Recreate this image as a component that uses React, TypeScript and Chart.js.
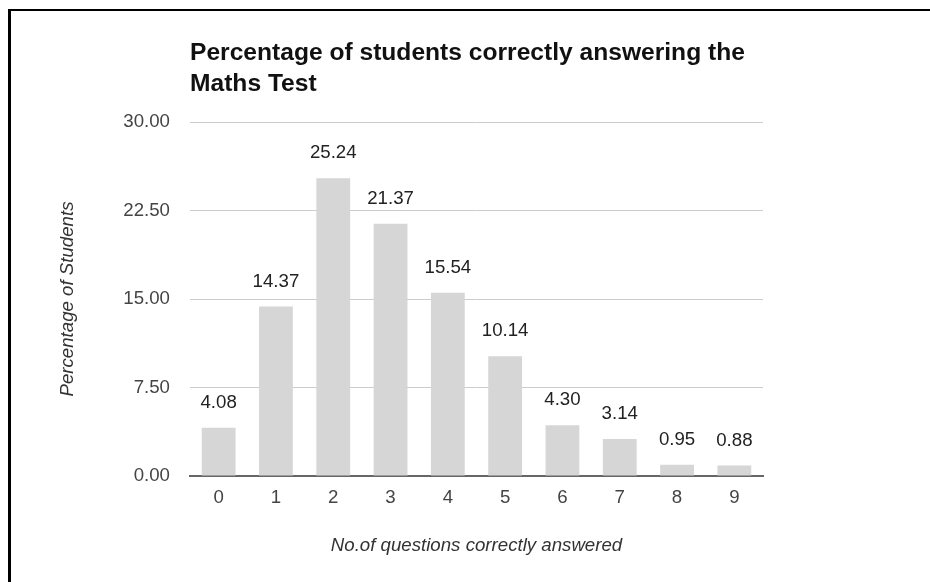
import React, { useEffect, useRef } from "react";
import { Chart, registerables } from "chart.js";

Chart.register(...registerables);

const categories = ["0", "1", "2", "3", "4", "5", "6", "7", "8", "9"];
const percentages = [4.08, 14.37, 25.24, 21.37, 15.54, 10.14, 4.3, 3.14, 0.95, 0.88];
const yTickValues = [0, 7.5, 15, 22.5, 30];
const titleLines = ["Percentage of students correctly answering the", "Maths Test"];
const xTitle = "No.of questions correctly answered";
const yTitle = "Percentage of Students";

const FONT = "'Liberation Sans', Arial, sans-serif";

export default function App() {
  const ref = useRef<HTMLCanvasElement | null>(null);

  useEffect(() => {
    if (!ref.current) return;
    const textPlugin = {
      id: "texts",
      afterDraw(chart: any) {
        const ctx = chart.ctx;
        const area = chart.chartArea;
        ctx.save();
        // title
        ctx.fillStyle = "#111";
        ctx.font = `bold 24.6px ${FONT}`;
        ctx.textAlign = "left";
        ctx.textBaseline = "alphabetic";
        ctx.fillText(titleLines[0], area.left, 60);
        ctx.fillText(titleLines[1], area.left, 91);
        // value labels
        const meta = chart.getDatasetMeta(0);
        ctx.font = `18.67px ${FONT}`;
        ctx.fillStyle = "#222";
        ctx.textAlign = "center";
        ctx.textBaseline = "middle";
        meta.data.forEach((bar: any, i: number) => {
          ctx.fillText(percentages[i].toFixed(2), bar.x, bar.y - 25);
        });
        // axis titles
        ctx.font = `italic 18.67px ${FONT}`;
        ctx.fillStyle = "#333";
        ctx.fillText(xTitle, (area.left + area.right) / 2, 546);
        ctx.translate(68, (area.top + area.bottom) / 2);
        ctx.rotate(-Math.PI / 2);
        ctx.fillText(yTitle, 0, 0);
        ctx.restore();
      },
    };

    const chart = new Chart(ref.current, {
      type: "bar",
      data: {
        labels: categories,
        datasets: [
          {
            data: percentages,
            backgroundColor: "#d6d6d6",
            borderWidth: 0,
            barPercentage: 0.59,
            categoryPercentage: 1,
          },
        ],
      },
      options: {
        animation: false,
        responsive: false,
        maintainAspectRatio: false,
        layout: { padding: { top: 122, right: 167, bottom: 0, left: 0 } },
        plugins: {
          legend: { display: false },
          tooltip: { enabled: false },
          title: { display: false },
        },
        scales: {
          x: {
            afterFit: (s: any) => {
              s.height = 106;
            },
            grid: { display: false, drawTicks: false },
            border: { display: true, color: "#666", width: 2 },
            ticks: {
              color: "#444",
              font: { family: FONT, size: 18.67 },
              padding: 11,
            },
          },
          y: {
            min: 0,
            max: 30,
            afterFit: (s: any) => {
              s.width = 190;
            },
            afterBuildTicks: (s: any) => {
              s.ticks = yTickValues.map((v) => ({ value: v }));
            },
            grid: { color: "#cccccc", drawTicks: false },
            border: { display: false },
            ticks: {
              color: "#444",
              font: { family: FONT, size: 18.67 },
              padding: 20,
              callback: (v: any) => Number(v).toFixed(2),
            },
          },
        },
      },
      plugins: [textPlugin],
    });
    return () => chart.destroy();
  }, []);

  return (
    <div
      style={{
        position: "absolute",
        left: 0,
        top: 0,
        width: 930,
        height: 582,
        background: "#fff",
        overflow: "hidden",
      }}
    >
      <div
        style={{
          position: "absolute",
          left: 8,
          top: 9,
          width: 940,
          height: 600,
          borderLeft: "3px solid #000",
          borderTop: "2px solid #000",
          boxSizing: "border-box",
        }}
      />
      <canvas
        ref={ref}
        width={930}
        height={582}
        style={{ position: "absolute", left: 0, top: 0, width: 930, height: 582 }}
      />
    </div>
  );
}
